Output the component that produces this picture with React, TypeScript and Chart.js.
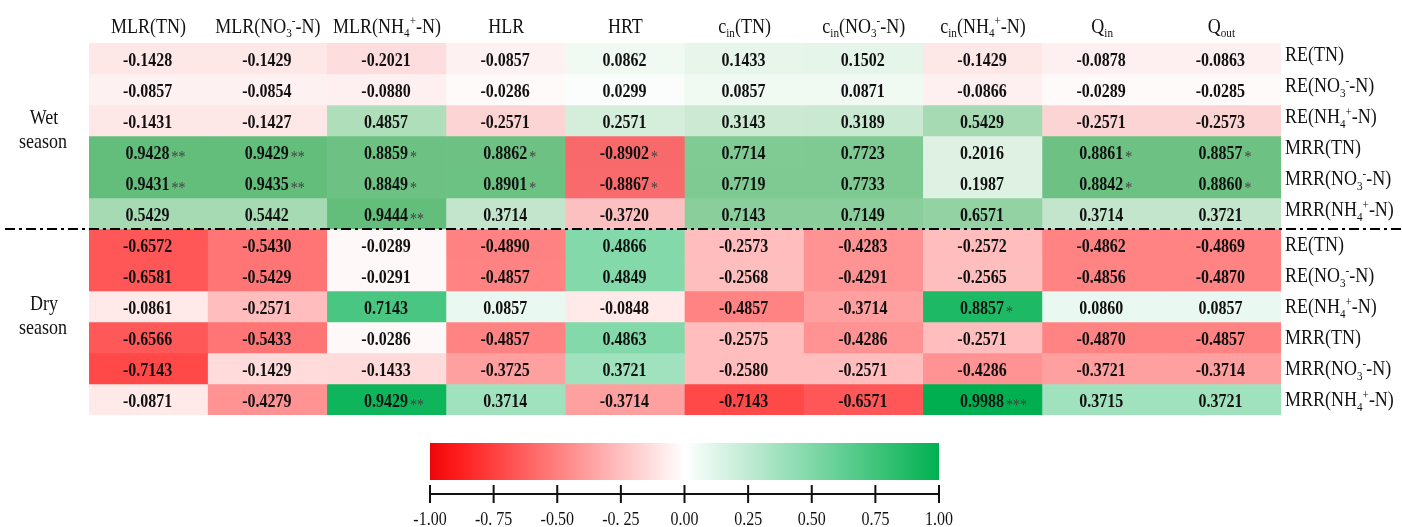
import { useEffect, useRef } from 'react';
import { Chart, registerables } from 'chart.js';

Chart.register(...registerables);

// Column headers (influencing factors); _{..} = subscript, ^{..} = superscript
const factors = [
  'MLR(TN)',
  'MLR(NO_{3}^{-}-N)',
  'MLR(NH_{4}^{+}-N)',
  'HLR',
  'HRT',
  'c_{in}(TN)',
  'c_{in}(NO_{3}^{-}-N)',
  'c_{in}(NH_{4}^{+}-N)',
  'Q_{in}',
  'Q_{out}',
];

// Row labels (removal indicators), repeated for each season
const indicators = [
  'RE(TN)',
  'RE(NO_{3}^{-}-N)',
  'RE(NH_{4}^{+}-N)',
  'MRR(TN)',
  'MRR(NO_{3}^{-}-N)',
  'MRR(NH_{4}^{+}-N)',
];

const wetLabel = ['Wet', 'season'];
const dryLabel = ['Dry', 'season'];

// Wet season correlation coefficients
const wetValues = [
  [-0.1428, -0.1429, -0.2021, -0.0857, 0.0862, 0.1433, 0.1502, -0.1429, -0.0878, -0.0863],
  [-0.0857, -0.0854, -0.088, -0.0286, 0.0299, 0.0857, 0.0871, -0.0866, -0.0289, -0.0285],
  [-0.1431, -0.1427, 0.4857, -0.2571, 0.2571, 0.3143, 0.3189, 0.5429, -0.2571, -0.2573],
  [0.9428, 0.9429, 0.8859, 0.8862, -0.8902, 0.7714, 0.7723, 0.2016, 0.8861, 0.8857],
  [0.9431, 0.9435, 0.8849, 0.8901, -0.8867, 0.7719, 0.7733, 0.1987, 0.8842, 0.886],
  [0.5429, 0.5442, 0.9444, 0.3714, -0.372, 0.7143, 0.7149, 0.6571, 0.3714, 0.3721],
];
const wetSig = [
  ['', '', '', '', '', '', '', '', '', ''],
  ['', '', '', '', '', '', '', '', '', ''],
  ['', '', '', '', '', '', '', '', '', ''],
  ['**', '**', '*', '*', '*', '', '', '', '*', '*'],
  ['**', '**', '*', '*', '*', '', '', '', '*', '*'],
  ['', '', '**', '', '', '', '', '', '', ''],
];

// Dry season correlation coefficients
const dryValues = [
  [-0.6572, -0.543, -0.0289, -0.489, 0.4866, -0.2573, -0.4283, -0.2572, -0.4862, -0.4869],
  [-0.6581, -0.5429, -0.0291, -0.4857, 0.4849, -0.2568, -0.4291, -0.2565, -0.4856, -0.487],
  [-0.0861, -0.2571, 0.7143, 0.0857, -0.0848, -0.4857, -0.3714, 0.8857, 0.086, 0.0857],
  [-0.6566, -0.5433, -0.0286, -0.4857, 0.4863, -0.2575, -0.4286, -0.2571, -0.487, -0.4857],
  [-0.7143, -0.1429, -0.1433, -0.3725, 0.3721, -0.258, -0.2571, -0.4286, -0.3721, -0.3714],
  [-0.0871, -0.4279, 0.9429, 0.3714, -0.3714, -0.7143, -0.6571, 0.9988, 0.3715, 0.3721],
];
const drySig = [
  ['', '', '', '', '', '', '', '', '', ''],
  ['', '', '', '', '', '', '', '', '', ''],
  ['', '', '', '', '', '', '', '*', '', ''],
  ['', '', '', '', '', '', '', '', '', ''],
  ['', '', '', '', '', '', '', '', '', ''],
  ['', '', '**', '', '', '', '', '***', '', ''],
];

// Colour bar ticks
const colorbarTicks = [-1, -0.75, -0.5, -0.25, 0, 0.25, 0.5, 0.75, 1];
const colorbarLabels = ['-1.00', '-0. 75', '-0.50', '-0. 25', '0.00', '0.25', '0.50', '0.75', '1.00'];

const SERIF = '"Liberation Serif", "Times New Roman", serif';
// the serif lettering is set slightly tall and narrow
const STRETCH_Y = 1.17;

type RGB = [number, number, number];
const mix = (c: RGB, t: number) => {
  const k = Math.max(0, Math.min(1, t));
  const ch = (i: number) => Math.round(255 + (c[i] - 255) * k);
  return `rgb(${ch(0)},${ch(1)},${ch(2)})`;
};

// Wet season: three-colour scale from the data minimum through 0 to the maximum
const WET_NEG: RGB = [248, 105, 107];
const WET_POS: RGB = [99, 190, 123];
const wetMin = Math.min(...wetValues.flat());
const wetMax = Math.max(...wetValues.flat());
const wetColor = (v: number) => (v < 0 ? mix(WET_NEG, v / wetMin) : mix(WET_POS, v / wetMax));

// Dry season: fixed scale -1 .. 1 (also used by the colour bar)
const DRY_NEG: RGB = [255, 0, 0];
const DRY_POS: RGB = [0, 176, 80];
const dryColor = (v: number) => (v < 0 ? mix(DRY_NEG, -v) : mix(DRY_POS, v));

const rows = [
  ...wetValues.map((vals, i) => ({ vals, sig: wetSig[i], label: indicators[i], wet: true })),
  ...dryValues.map((vals, i) => ({ vals, sig: drySig[i], label: indicators[i], wet: false })),
];

// fillText with a vertical stretch about the baseline point
const tallText = (ctx: CanvasRenderingContext2D, text: string, x: number, y: number) => {
  ctx.save();
  ctx.translate(x, y);
  ctx.scale(1, STRETCH_Y);
  ctx.fillText(text, 0, 0);
  ctx.restore();
};

type Seg = { text: string; kind: 'n' | 'sub' | 'sup' };
const parseRich = (s: string): Seg[] => {
  const out: Seg[] = [];
  const re = /(_\{[^}]*\}|\^\{[^}]*\})/g;
  let last = 0;
  let m: RegExpExecArray | null;
  while ((m = re.exec(s))) {
    if (m.index > last) out.push({ text: s.slice(last, m.index), kind: 'n' });
    out.push({ text: m[0].slice(2, -1), kind: m[0][0] === '_' ? 'sub' : 'sup' });
    last = m.index + m[0].length;
  }
  if (last < s.length) out.push({ text: s.slice(last), kind: 'n' });
  return out;
};

const drawRich = (
  ctx: CanvasRenderingContext2D,
  s: string,
  x: number,
  cy: number,
  size: number,
  align: 'left' | 'center',
) => {
  const segs = parseRich(s);
  const small = size * 0.62;
  const fontOf = (k: Seg['kind']) => `${k === 'n' ? size : small}px ${SERIF}`;
  let total = 0;
  const widths = segs.map((sg) => {
    ctx.font = fontOf(sg.kind);
    const w = ctx.measureText(sg.text).width;
    total += w;
    return w;
  });
  let cx = align === 'center' ? x - total / 2 : x;
  const baseline = cy + size * 0.33 * STRETCH_Y;
  ctx.textAlign = 'left';
  ctx.textBaseline = 'alphabetic';
  segs.forEach((sg, i) => {
    ctx.font = fontOf(sg.kind);
    const dy = sg.kind === 'sub' ? size * 0.24 : sg.kind === 'sup' ? -size * 0.42 : 0;
    tallText(ctx, sg.text, cx, baseline + dy);
    cx += widths[i];
  });
};

const heatmapDecor = {
  id: 'heatmapDecor',
  afterDraw(chart: Chart) {
    const { ctx, scales, chartArea } = chart;
    const xs = scales.x;
    const ys = scales.y;
    ctx.save();

    // cell values and significance stars
    rows.forEach((row, i) => {
      const meta = chart.getDatasetMeta(i);
      meta.data.forEach((el: any, j: number) => {
        const p = el.getProps(['x', 'y', 'base'], true);
        const cy = (p.y + p.base) / 2;
        const txt = row.vals[j].toFixed(4);
        ctx.font = `bold 16px ${SERIF}`;
        ctx.fillStyle = '#111';
        ctx.textAlign = 'center';
        ctx.textBaseline = 'alphabetic';
        tallText(ctx, txt, p.x - 1, cy + 7);
        const sig = row.sig[j];
        if (sig) {
          const w = ctx.measureText(txt).width;
          ctx.font = `14px ${SERIF}`;
          ctx.fillStyle = '#444';
          ctx.textAlign = 'left';
          tallText(ctx, sig, p.x - 1 + w / 2 + 2, cy + 10);
        }
      });
    });

    ctx.fillStyle = '#111';
    // column headers
    factors.forEach((f, j) => {
      drawRich(ctx, f, xs.getPixelForValue(j), 26, 18, 'center');
    });

    // row labels on the right
    rows.forEach((row, i) => {
      const cy = ys.getPixelForValue(i + 0.5) - (row.wet ? 4 : 0);
      drawRich(ctx, row.label, chartArea.right + 4, cy, 18, 'left');
    });

    // season labels on the left
    const seasonLabel = (lines: string[], from: number, to: number) => {
      const mid = (ys.getPixelForValue(from) + ys.getPixelForValue(to)) / 2;
      ctx.font = `18px ${SERIF}`;
      ctx.textAlign = 'center';
      ctx.textBaseline = 'alphabetic';
      tallText(ctx, lines[0], 44, mid - 19 + 7);
      tallText(ctx, lines[1], 43, mid + 5 + 7);
    };
    seasonLabel(wetLabel, 0, wetValues.length);
    seasonLabel(dryLabel, wetValues.length, rows.length);

    // dash-dot separator between seasons
    const sepY = Math.round(ys.getPixelForValue(wetValues.length));
    ctx.strokeStyle = '#000';
    ctx.lineWidth = 2;
    ctx.setLineDash([10, 4, 3, 4]);
    ctx.beginPath();
    ctx.moveTo(5, sepY);
    ctx.lineTo(chart.width, sepY);
    ctx.stroke();
    ctx.setLineDash([]);

    // colour bar
    const bx0 = 430;
    const bx1 = 939;
    const by0 = 443;
    const by1 = 480;
    const grad = ctx.createLinearGradient(bx0, 0, bx1, 0);
    grad.addColorStop(0, 'rgb(236,6,10)');
    for (let k = 1; k < 20; k++) {
      const v = -1 + (2 * k) / 20;
      grad.addColorStop(k / 20, dryColor(v));
    }
    grad.addColorStop(1, dryColor(1));
    ctx.fillStyle = grad;
    ctx.fillRect(bx0, by0, bx1 - bx0, by1 - by0);

    const axisY = 494;
    const toX = (v: number) => bx0 + ((v + 1) / 2) * (bx1 - bx0);
    ctx.strokeStyle = '#111';
    ctx.lineWidth = 2;
    ctx.beginPath();
    ctx.moveTo(toX(colorbarTicks[0]), axisY);
    ctx.lineTo(toX(colorbarTicks[colorbarTicks.length - 1]), axisY);
    colorbarTicks.forEach((t) => {
      ctx.moveTo(toX(t), axisY - 9);
      ctx.lineTo(toX(t), axisY + 9);
    });
    ctx.stroke();
    ctx.fillStyle = '#111';
    ctx.font = `16px ${SERIF}`;
    ctx.textAlign = 'center';
    ctx.textBaseline = 'alphabetic';
    colorbarTicks.forEach((t, k) => {
      tallText(ctx, colorbarLabels[k], toX(t), 525);
    });

    ctx.restore();
  },
};

export default function App() {
  const ref = useRef<HTMLCanvasElement | null>(null);

  useEffect(() => {
    if (!ref.current) return;
    const chart = new Chart(ref.current, {
      type: 'bar',
      data: {
        labels: factors,
        datasets: rows.map((row, i) => ({
          label: row.label,
          data: row.vals.map(() => [i, i + 1]) as any,
          backgroundColor: row.vals.map((v) => (row.wet ? wetColor(v) : dryColor(v))),
          borderWidth: 0,
          barPercentage: 1,
          categoryPercentage: 1,
          grouped: false,
        })),
      },
      options: {
        responsive: false,
        animation: false,
        devicePixelRatio: 1,
        layout: { padding: { left: 89, right: 121, top: 43, bottom: 112 } },
        plugins: { legend: { display: false }, tooltip: { enabled: false } },
        scales: {
          x: { display: false },
          y: { type: 'linear', min: 0, max: rows.length, reverse: true, display: false },
        },
      },
      plugins: [heatmapDecor],
    });
    return () => chart.destroy();
  }, []);

  return (
    <div style={{ position: 'absolute', left: 0, top: 0, width: 1402, height: 527, background: '#fff' }}>
      <canvas ref={ref} width={1402} height={527} style={{ display: 'block' }} />
    </div>
  );
}
